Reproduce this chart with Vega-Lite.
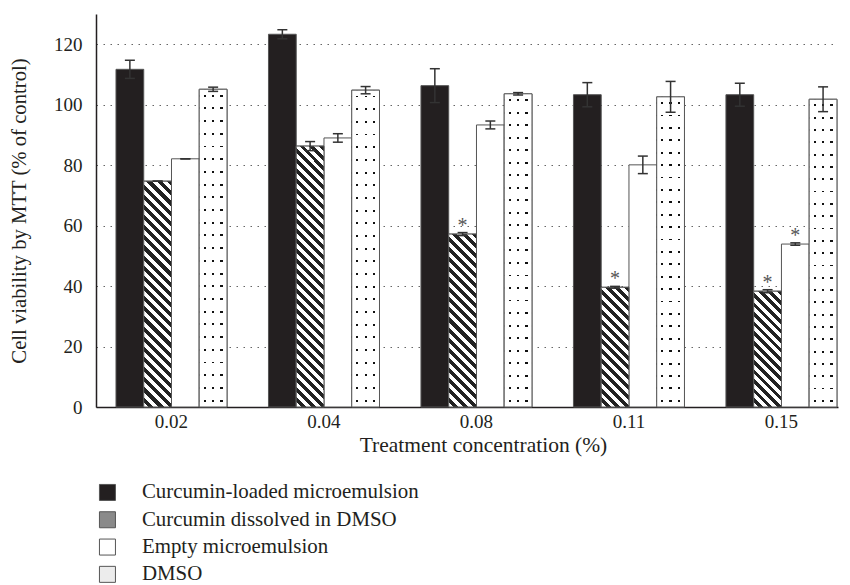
{
"$schema": "https://vega.github.io/schema/vega-lite/v6.json",
"width": 742, "height": 393,
"autosize": {"type": "none"},
"padding": {"left": 96, "top": 14, "right": 12, "bottom": 178},
"background": "white",
"config": {"view": {"stroke": null}, "font": "Liberation Serif",
  "axis": {"labelFont": "Liberation Serif", "titleFont": "Liberation Serif", "labelColor": "#231f20", "titleColor": "#231f20", "titleFontWeight": "normal", "labelFontSize": 19, "titleFontSize": 21, "domainColor": "#231f20", "domainWidth": 1.5, "ticks": false}},
"data": {"values": [
{"conc":"0.02","series":"Curcumin-loaded microemulsion","value":111.7,"lo":108.7,"hi":114.7,"sig":""},
{"conc":"0.02","series":"Curcumin dissolved in DMSO","value":74.7,"lo":74.7,"hi":74.7,"sig":""},
{"conc":"0.02","series":"Empty microemulsion","value":82.1,"lo":82.1,"hi":82.1,"sig":""},
{"conc":"0.02","series":"DMSO","value":105.1,"lo":104.4,"hi":105.8,"sig":""},
{"conc":"0.04","series":"Curcumin-loaded microemulsion","value":123.3,"lo":121.8,"hi":124.8,"sig":""},
{"conc":"0.04","series":"Curcumin dissolved in DMSO","value":86.3,"lo":84.8,"hi":87.8,"sig":""},
{"conc":"0.04","series":"Empty microemulsion","value":89.0,"lo":87.6,"hi":90.4,"sig":""},
{"conc":"0.04","series":"DMSO","value":104.8,"lo":103.6,"hi":106.0,"sig":""},
{"conc":"0.08","series":"Curcumin-loaded microemulsion","value":106.3,"lo":100.7,"hi":111.9,"sig":""},
{"conc":"0.08","series":"Curcumin dissolved in DMSO","value":57.2,"lo":56.7,"hi":57.7,"sig":"*"},
{"conc":"0.08","series":"Empty microemulsion","value":93.3,"lo":92.0,"hi":94.6,"sig":""},
{"conc":"0.08","series":"DMSO","value":103.6,"lo":103.2,"hi":104.0,"sig":""},
{"conc":"0.11","series":"Curcumin-loaded microemulsion","value":103.3,"lo":99.3,"hi":107.3,"sig":""},
{"conc":"0.11","series":"Curcumin dissolved in DMSO","value":39.6,"lo":39.3,"hi":39.9,"sig":"*"},
{"conc":"0.11","series":"Empty microemulsion","value":80.1,"lo":77.2,"hi":83.0,"sig":""},
{"conc":"0.11","series":"DMSO","value":102.6,"lo":97.5,"hi":107.7,"sig":""},
{"conc":"0.15","series":"Curcumin-loaded microemulsion","value":103.3,"lo":99.5,"hi":107.1,"sig":""},
{"conc":"0.15","series":"Curcumin dissolved in DMSO","value":38.3,"lo":37.8,"hi":38.8,"sig":"*"},
{"conc":"0.15","series":"Empty microemulsion","value":53.9,"lo":53.5,"hi":54.3,"sig":"*"},
{"conc":"0.15","series":"DMSO","value":101.8,"lo":97.7,"hi":105.9,"sig":""}
]},
"encoding": {
  "x": {"field": "conc", "type": "nominal",
    "scale": {"domain": ["0.02","0.04","0.08","0.11","0.15"], "paddingInner": 0.272, "paddingOuter": 0.069, "align": 0.95},
    "axis": {"title": "Treatment concentration (%)", "labelAngle": 0, "labelPadding": 5, "titlePadding": 3, "titleX": 387, "titleFontSize": 21.5}},
  "xOffset": {"field": "series", "type": "nominal",
    "scale": {"domain": ["Curcumin-loaded microemulsion","Curcumin dissolved in DMSO","Empty microemulsion","DMSO"], "paddingInner": 0, "paddingOuter": 0}}
},
"layer": [
{"mark": {"type": "bar", "stroke": "#555", "strokeWidth": 1},
 "encoding": {
  "y": {"field": "value", "type": "quantitative", "title": "Cell viability by MTT (% of control)",
    "scale": {"domain": [0, 130], "nice": false},
    "axis": {"values": [0,20,40,60,80,100,120], "labelPadding": 14, "grid": true, "gridDash": [1.5,5.5], "gridColor": "#666", "gridWidth": 1.2, "titlePadding": 24, "titleFontSize": 20.7}},
  "color": {"field": "series", "type": "nominal",
    "scale": {"domain": ["Curcumin-loaded microemulsion","Curcumin dissolved in DMSO","Empty microemulsion","DMSO"],
      "range": ["#231f20", "#8a8a8a", "#ffffff", "#ececec"]},
    "legend": {"title": null, "orient": "none", "legendX": 1, "legendY": 468, "symbolType": "square", "symbolSize": 256, "symbolStrokeColor": "#555", "symbolStrokeWidth": 1, "labelFont": "Liberation Serif", "labelFontSize": 20.9, "labelColor": "#231f20", "labelOffset": 24, "rowPadding": 5.3, "labelLimit": 0}}
 }},
{"transform": [{"filter": "datum.conc === '0.02' && datum.series === 'Curcumin dissolved in DMSO'"}],
 "mark": {"type": "bar", "stroke": "#555", "strokeWidth": 1,
  "fill": {"gradient":"linear","x1":1,"y1":0,"x2":0.8639,"y2":1.1063,"stops":[
{"offset":0,"color":"#222"},
{"offset":0.02,"color":"#222"},{"offset":0.02,"color":"#fff"},{"offset":0.04,"color":"#fff"},{"offset":0.04,"color":"#222"},
{"offset":0.06,"color":"#222"},{"offset":0.06,"color":"#fff"},{"offset":0.08,"color":"#fff"},{"offset":0.08,"color":"#222"},
{"offset":0.1,"color":"#222"},{"offset":0.1,"color":"#fff"},{"offset":0.12,"color":"#fff"},{"offset":0.12,"color":"#222"},
{"offset":0.14,"color":"#222"},{"offset":0.14,"color":"#fff"},{"offset":0.16,"color":"#fff"},{"offset":0.16,"color":"#222"},
{"offset":0.18,"color":"#222"},{"offset":0.18,"color":"#fff"},{"offset":0.2,"color":"#fff"},{"offset":0.2,"color":"#222"},
{"offset":0.22,"color":"#222"},{"offset":0.22,"color":"#fff"},{"offset":0.24,"color":"#fff"},{"offset":0.24,"color":"#222"},
{"offset":0.26,"color":"#222"},{"offset":0.26,"color":"#fff"},{"offset":0.28,"color":"#fff"},{"offset":0.28,"color":"#222"},
{"offset":0.3,"color":"#222"},{"offset":0.3,"color":"#fff"},{"offset":0.32,"color":"#fff"},{"offset":0.32,"color":"#222"},
{"offset":0.34,"color":"#222"},{"offset":0.34,"color":"#fff"},{"offset":0.36,"color":"#fff"},{"offset":0.36,"color":"#222"},
{"offset":0.38,"color":"#222"},{"offset":0.38,"color":"#fff"},{"offset":0.4,"color":"#fff"},{"offset":0.4,"color":"#222"},
{"offset":0.42,"color":"#222"},{"offset":0.42,"color":"#fff"},{"offset":0.44,"color":"#fff"},{"offset":0.44,"color":"#222"},
{"offset":0.46,"color":"#222"},{"offset":0.46,"color":"#fff"},{"offset":0.48,"color":"#fff"},{"offset":0.48,"color":"#222"},
{"offset":0.5,"color":"#222"},{"offset":0.5,"color":"#fff"},{"offset":0.52,"color":"#fff"},{"offset":0.52,"color":"#222"},
{"offset":0.54,"color":"#222"},{"offset":0.54,"color":"#fff"},{"offset":0.56,"color":"#fff"},{"offset":0.56,"color":"#222"},
{"offset":0.58,"color":"#222"},{"offset":0.58,"color":"#fff"},{"offset":0.6,"color":"#fff"},{"offset":0.6,"color":"#222"},
{"offset":0.62,"color":"#222"},{"offset":0.62,"color":"#fff"},{"offset":0.64,"color":"#fff"},{"offset":0.64,"color":"#222"},
{"offset":0.66,"color":"#222"},{"offset":0.66,"color":"#fff"},{"offset":0.68,"color":"#fff"},{"offset":0.68,"color":"#222"},
{"offset":0.7,"color":"#222"},{"offset":0.7,"color":"#fff"},{"offset":0.72,"color":"#fff"},{"offset":0.72,"color":"#222"},
{"offset":0.74,"color":"#222"},{"offset":0.74,"color":"#fff"},{"offset":0.76,"color":"#fff"},{"offset":0.76,"color":"#222"},
{"offset":0.78,"color":"#222"},{"offset":0.78,"color":"#fff"},{"offset":0.8,"color":"#fff"},{"offset":0.8,"color":"#222"},
{"offset":0.82,"color":"#222"},{"offset":0.82,"color":"#fff"},{"offset":0.84,"color":"#fff"},{"offset":0.84,"color":"#222"},
{"offset":0.86,"color":"#222"},{"offset":0.86,"color":"#fff"},{"offset":0.88,"color":"#fff"},{"offset":0.88,"color":"#222"},
{"offset":0.9,"color":"#222"},{"offset":0.9,"color":"#fff"},{"offset":0.92,"color":"#fff"},{"offset":0.92,"color":"#222"},
{"offset":0.94,"color":"#222"},{"offset":0.94,"color":"#fff"},{"offset":0.96,"color":"#fff"},{"offset":0.96,"color":"#222"},
{"offset":0.98,"color":"#222"},{"offset":0.98,"color":"#fff"},{"offset":1,"color":"#fff"}]}},
 "encoding": {"y": {"field": "value", "type": "quantitative", "title": "Cell viability by MTT (% of control)"}}},
{"transform": [{"filter": "datum.conc === '0.04' && datum.series === 'Curcumin dissolved in DMSO'"}],
 "mark": {"type": "bar", "stroke": "#555", "strokeWidth": 1,
  "fill": {"gradient":"linear","x1":1,"y1":0,"x2":0.8835,"y2":1.0941,"stops":[
{"offset":0,"color":"#222"},
{"offset":0.0172,"color":"#222"},{"offset":0.0172,"color":"#fff"},{"offset":0.0345,"color":"#fff"},{"offset":0.0345,"color":"#222"},
{"offset":0.0517,"color":"#222"},{"offset":0.0517,"color":"#fff"},{"offset":0.069,"color":"#fff"},{"offset":0.069,"color":"#222"},
{"offset":0.0862,"color":"#222"},{"offset":0.0862,"color":"#fff"},{"offset":0.1034,"color":"#fff"},{"offset":0.1034,"color":"#222"},
{"offset":0.1207,"color":"#222"},{"offset":0.1207,"color":"#fff"},{"offset":0.1379,"color":"#fff"},{"offset":0.1379,"color":"#222"},
{"offset":0.1552,"color":"#222"},{"offset":0.1552,"color":"#fff"},{"offset":0.1724,"color":"#fff"},{"offset":0.1724,"color":"#222"},
{"offset":0.1897,"color":"#222"},{"offset":0.1897,"color":"#fff"},{"offset":0.2069,"color":"#fff"},{"offset":0.2069,"color":"#222"},
{"offset":0.2241,"color":"#222"},{"offset":0.2241,"color":"#fff"},{"offset":0.2414,"color":"#fff"},{"offset":0.2414,"color":"#222"},
{"offset":0.2586,"color":"#222"},{"offset":0.2586,"color":"#fff"},{"offset":0.2759,"color":"#fff"},{"offset":0.2759,"color":"#222"},
{"offset":0.2931,"color":"#222"},{"offset":0.2931,"color":"#fff"},{"offset":0.3103,"color":"#fff"},{"offset":0.3103,"color":"#222"},
{"offset":0.3276,"color":"#222"},{"offset":0.3276,"color":"#fff"},{"offset":0.3448,"color":"#fff"},{"offset":0.3448,"color":"#222"},
{"offset":0.3621,"color":"#222"},{"offset":0.3621,"color":"#fff"},{"offset":0.3793,"color":"#fff"},{"offset":0.3793,"color":"#222"},
{"offset":0.3966,"color":"#222"},{"offset":0.3966,"color":"#fff"},{"offset":0.4138,"color":"#fff"},{"offset":0.4138,"color":"#222"},
{"offset":0.431,"color":"#222"},{"offset":0.431,"color":"#fff"},{"offset":0.4483,"color":"#fff"},{"offset":0.4483,"color":"#222"},
{"offset":0.4655,"color":"#222"},{"offset":0.4655,"color":"#fff"},{"offset":0.4828,"color":"#fff"},{"offset":0.4828,"color":"#222"},
{"offset":0.5,"color":"#222"},{"offset":0.5,"color":"#fff"},{"offset":0.5172,"color":"#fff"},{"offset":0.5172,"color":"#222"},
{"offset":0.5345,"color":"#222"},{"offset":0.5345,"color":"#fff"},{"offset":0.5517,"color":"#fff"},{"offset":0.5517,"color":"#222"},
{"offset":0.569,"color":"#222"},{"offset":0.569,"color":"#fff"},{"offset":0.5862,"color":"#fff"},{"offset":0.5862,"color":"#222"},
{"offset":0.6034,"color":"#222"},{"offset":0.6034,"color":"#fff"},{"offset":0.6207,"color":"#fff"},{"offset":0.6207,"color":"#222"},
{"offset":0.6379,"color":"#222"},{"offset":0.6379,"color":"#fff"},{"offset":0.6552,"color":"#fff"},{"offset":0.6552,"color":"#222"},
{"offset":0.6724,"color":"#222"},{"offset":0.6724,"color":"#fff"},{"offset":0.6897,"color":"#fff"},{"offset":0.6897,"color":"#222"},
{"offset":0.7069,"color":"#222"},{"offset":0.7069,"color":"#fff"},{"offset":0.7241,"color":"#fff"},{"offset":0.7241,"color":"#222"},
{"offset":0.7414,"color":"#222"},{"offset":0.7414,"color":"#fff"},{"offset":0.7586,"color":"#fff"},{"offset":0.7586,"color":"#222"},
{"offset":0.7759,"color":"#222"},{"offset":0.7759,"color":"#fff"},{"offset":0.7931,"color":"#fff"},{"offset":0.7931,"color":"#222"},
{"offset":0.8103,"color":"#222"},{"offset":0.8103,"color":"#fff"},{"offset":0.8276,"color":"#fff"},{"offset":0.8276,"color":"#222"},
{"offset":0.8448,"color":"#222"},{"offset":0.8448,"color":"#fff"},{"offset":0.8621,"color":"#fff"},{"offset":0.8621,"color":"#222"},
{"offset":0.8793,"color":"#222"},{"offset":0.8793,"color":"#fff"},{"offset":0.8966,"color":"#fff"},{"offset":0.8966,"color":"#222"},
{"offset":0.9138,"color":"#222"},{"offset":0.9138,"color":"#fff"},{"offset":0.931,"color":"#fff"},{"offset":0.931,"color":"#222"},
{"offset":0.9483,"color":"#222"},{"offset":0.9483,"color":"#fff"},{"offset":0.9655,"color":"#fff"},{"offset":0.9655,"color":"#222"},
{"offset":0.9828,"color":"#222"},{"offset":0.9828,"color":"#fff"},{"offset":1,"color":"#fff"}]}},
 "encoding": {"y": {"field": "value", "type": "quantitative", "title": "Cell viability by MTT (% of control)"}}},
{"transform": [{"filter": "datum.conc === '0.08' && datum.series === 'Curcumin dissolved in DMSO'"}],
 "mark": {"type": "bar", "stroke": "#555", "strokeWidth": 1,
  "fill": {"gradient":"linear","x1":1,"y1":0,"x2":0.8184,"y2":1.1314,"stops":[
{"offset":0,"color":"#222"},
{"offset":0.025,"color":"#222"},{"offset":0.025,"color":"#fff"},{"offset":0.05,"color":"#fff"},{"offset":0.05,"color":"#222"},
{"offset":0.075,"color":"#222"},{"offset":0.075,"color":"#fff"},{"offset":0.1,"color":"#fff"},{"offset":0.1,"color":"#222"},
{"offset":0.125,"color":"#222"},{"offset":0.125,"color":"#fff"},{"offset":0.15,"color":"#fff"},{"offset":0.15,"color":"#222"},
{"offset":0.175,"color":"#222"},{"offset":0.175,"color":"#fff"},{"offset":0.2,"color":"#fff"},{"offset":0.2,"color":"#222"},
{"offset":0.225,"color":"#222"},{"offset":0.225,"color":"#fff"},{"offset":0.25,"color":"#fff"},{"offset":0.25,"color":"#222"},
{"offset":0.275,"color":"#222"},{"offset":0.275,"color":"#fff"},{"offset":0.3,"color":"#fff"},{"offset":0.3,"color":"#222"},
{"offset":0.325,"color":"#222"},{"offset":0.325,"color":"#fff"},{"offset":0.35,"color":"#fff"},{"offset":0.35,"color":"#222"},
{"offset":0.375,"color":"#222"},{"offset":0.375,"color":"#fff"},{"offset":0.4,"color":"#fff"},{"offset":0.4,"color":"#222"},
{"offset":0.425,"color":"#222"},{"offset":0.425,"color":"#fff"},{"offset":0.45,"color":"#fff"},{"offset":0.45,"color":"#222"},
{"offset":0.475,"color":"#222"},{"offset":0.475,"color":"#fff"},{"offset":0.5,"color":"#fff"},{"offset":0.5,"color":"#222"},
{"offset":0.525,"color":"#222"},{"offset":0.525,"color":"#fff"},{"offset":0.55,"color":"#fff"},{"offset":0.55,"color":"#222"},
{"offset":0.575,"color":"#222"},{"offset":0.575,"color":"#fff"},{"offset":0.6,"color":"#fff"},{"offset":0.6,"color":"#222"},
{"offset":0.625,"color":"#222"},{"offset":0.625,"color":"#fff"},{"offset":0.65,"color":"#fff"},{"offset":0.65,"color":"#222"},
{"offset":0.675,"color":"#222"},{"offset":0.675,"color":"#fff"},{"offset":0.7,"color":"#fff"},{"offset":0.7,"color":"#222"},
{"offset":0.725,"color":"#222"},{"offset":0.725,"color":"#fff"},{"offset":0.75,"color":"#fff"},{"offset":0.75,"color":"#222"},
{"offset":0.775,"color":"#222"},{"offset":0.775,"color":"#fff"},{"offset":0.8,"color":"#fff"},{"offset":0.8,"color":"#222"},
{"offset":0.825,"color":"#222"},{"offset":0.825,"color":"#fff"},{"offset":0.85,"color":"#fff"},{"offset":0.85,"color":"#222"},
{"offset":0.875,"color":"#222"},{"offset":0.875,"color":"#fff"},{"offset":0.9,"color":"#fff"},{"offset":0.9,"color":"#222"},
{"offset":0.925,"color":"#222"},{"offset":0.925,"color":"#fff"},{"offset":0.95,"color":"#fff"},{"offset":0.95,"color":"#222"},
{"offset":0.975,"color":"#222"},{"offset":0.975,"color":"#fff"},{"offset":1,"color":"#fff"}]}},
 "encoding": {"y": {"field": "value", "type": "quantitative", "title": "Cell viability by MTT (% of control)"}}},
{"transform": [{"filter": "datum.conc === '0.11' && datum.series === 'Curcumin dissolved in DMSO'"}],
 "mark": {"type": "bar", "stroke": "#555", "strokeWidth": 1,
  "fill": {"gradient":"linear","x1":1,"y1":0,"x2":0.729,"y2":1.169,"stops":[
{"offset":0,"color":"#222"},
{"offset":0.0333,"color":"#222"},{"offset":0.0333,"color":"#fff"},{"offset":0.0667,"color":"#fff"},{"offset":0.0667,"color":"#222"},
{"offset":0.1,"color":"#222"},{"offset":0.1,"color":"#fff"},{"offset":0.1333,"color":"#fff"},{"offset":0.1333,"color":"#222"},
{"offset":0.1667,"color":"#222"},{"offset":0.1667,"color":"#fff"},{"offset":0.2,"color":"#fff"},{"offset":0.2,"color":"#222"},
{"offset":0.2333,"color":"#222"},{"offset":0.2333,"color":"#fff"},{"offset":0.2667,"color":"#fff"},{"offset":0.2667,"color":"#222"},
{"offset":0.3,"color":"#222"},{"offset":0.3,"color":"#fff"},{"offset":0.3333,"color":"#fff"},{"offset":0.3333,"color":"#222"},
{"offset":0.3667,"color":"#222"},{"offset":0.3667,"color":"#fff"},{"offset":0.4,"color":"#fff"},{"offset":0.4,"color":"#222"},
{"offset":0.4333,"color":"#222"},{"offset":0.4333,"color":"#fff"},{"offset":0.4667,"color":"#fff"},{"offset":0.4667,"color":"#222"},
{"offset":0.5,"color":"#222"},{"offset":0.5,"color":"#fff"},{"offset":0.5333,"color":"#fff"},{"offset":0.5333,"color":"#222"},
{"offset":0.5667,"color":"#222"},{"offset":0.5667,"color":"#fff"},{"offset":0.6,"color":"#fff"},{"offset":0.6,"color":"#222"},
{"offset":0.6333,"color":"#222"},{"offset":0.6333,"color":"#fff"},{"offset":0.6667,"color":"#fff"},{"offset":0.6667,"color":"#222"},
{"offset":0.7,"color":"#222"},{"offset":0.7,"color":"#fff"},{"offset":0.7333,"color":"#fff"},{"offset":0.7333,"color":"#222"},
{"offset":0.7667,"color":"#222"},{"offset":0.7667,"color":"#fff"},{"offset":0.8,"color":"#fff"},{"offset":0.8,"color":"#222"},
{"offset":0.8333,"color":"#222"},{"offset":0.8333,"color":"#fff"},{"offset":0.8667,"color":"#fff"},{"offset":0.8667,"color":"#222"},
{"offset":0.9,"color":"#222"},{"offset":0.9,"color":"#fff"},{"offset":0.9333,"color":"#fff"},{"offset":0.9333,"color":"#222"},
{"offset":0.9667,"color":"#222"},{"offset":0.9667,"color":"#fff"},{"offset":1,"color":"#fff"}]}},
 "encoding": {"y": {"field": "value", "type": "quantitative", "title": "Cell viability by MTT (% of control)"}}},
{"transform": [{"filter": "datum.conc === '0.15' && datum.series === 'Curcumin dissolved in DMSO'"}],
 "mark": {"type": "bar", "stroke": "#555", "strokeWidth": 1,
  "fill": {"gradient":"linear","x1":1,"y1":0,"x2":0.7191,"y2":1.1723,"stops":[
{"offset":0,"color":"#222"},
{"offset":0.0333,"color":"#222"},{"offset":0.0333,"color":"#fff"},{"offset":0.0667,"color":"#fff"},{"offset":0.0667,"color":"#222"},
{"offset":0.1,"color":"#222"},{"offset":0.1,"color":"#fff"},{"offset":0.1333,"color":"#fff"},{"offset":0.1333,"color":"#222"},
{"offset":0.1667,"color":"#222"},{"offset":0.1667,"color":"#fff"},{"offset":0.2,"color":"#fff"},{"offset":0.2,"color":"#222"},
{"offset":0.2333,"color":"#222"},{"offset":0.2333,"color":"#fff"},{"offset":0.2667,"color":"#fff"},{"offset":0.2667,"color":"#222"},
{"offset":0.3,"color":"#222"},{"offset":0.3,"color":"#fff"},{"offset":0.3333,"color":"#fff"},{"offset":0.3333,"color":"#222"},
{"offset":0.3667,"color":"#222"},{"offset":0.3667,"color":"#fff"},{"offset":0.4,"color":"#fff"},{"offset":0.4,"color":"#222"},
{"offset":0.4333,"color":"#222"},{"offset":0.4333,"color":"#fff"},{"offset":0.4667,"color":"#fff"},{"offset":0.4667,"color":"#222"},
{"offset":0.5,"color":"#222"},{"offset":0.5,"color":"#fff"},{"offset":0.5333,"color":"#fff"},{"offset":0.5333,"color":"#222"},
{"offset":0.5667,"color":"#222"},{"offset":0.5667,"color":"#fff"},{"offset":0.6,"color":"#fff"},{"offset":0.6,"color":"#222"},
{"offset":0.6333,"color":"#222"},{"offset":0.6333,"color":"#fff"},{"offset":0.6667,"color":"#fff"},{"offset":0.6667,"color":"#222"},
{"offset":0.7,"color":"#222"},{"offset":0.7,"color":"#fff"},{"offset":0.7333,"color":"#fff"},{"offset":0.7333,"color":"#222"},
{"offset":0.7667,"color":"#222"},{"offset":0.7667,"color":"#fff"},{"offset":0.8,"color":"#fff"},{"offset":0.8,"color":"#222"},
{"offset":0.8333,"color":"#222"},{"offset":0.8333,"color":"#fff"},{"offset":0.8667,"color":"#fff"},{"offset":0.8667,"color":"#222"},
{"offset":0.9,"color":"#222"},{"offset":0.9,"color":"#fff"},{"offset":0.9333,"color":"#fff"},{"offset":0.9333,"color":"#222"},
{"offset":0.9667,"color":"#222"},{"offset":0.9667,"color":"#fff"},{"offset":1,"color":"#fff"}]}},
 "encoding": {"y": {"field": "value", "type": "quantitative", "title": "Cell viability by MTT (% of control)"}}},
{"transform": [{"filter": "datum.series === 'DMSO'"}],
 "mark": {"type": "bar",
  "fill": {"gradient":"linear","x1":0,"y1":0,"x2":0,"y2":1,"stops":[
{"offset":0,"color":"#fff"},
{"offset":0.017,"color":"#fff"},{"offset":0.017,"color":"#111"},{"offset":0.023,"color":"#111"},{"offset":0.023,"color":"#fff"},
{"offset":0.057,"color":"#fff"},{"offset":0.057,"color":"#111"},{"offset":0.063,"color":"#111"},{"offset":0.063,"color":"#fff"},
{"offset":0.097,"color":"#fff"},{"offset":0.097,"color":"#111"},{"offset":0.103,"color":"#111"},{"offset":0.103,"color":"#fff"},
{"offset":0.137,"color":"#fff"},{"offset":0.137,"color":"#111"},{"offset":0.143,"color":"#111"},{"offset":0.143,"color":"#fff"},
{"offset":0.177,"color":"#fff"},{"offset":0.177,"color":"#111"},{"offset":0.183,"color":"#111"},{"offset":0.183,"color":"#fff"},
{"offset":0.217,"color":"#fff"},{"offset":0.217,"color":"#111"},{"offset":0.223,"color":"#111"},{"offset":0.223,"color":"#fff"},
{"offset":0.257,"color":"#fff"},{"offset":0.257,"color":"#111"},{"offset":0.263,"color":"#111"},{"offset":0.263,"color":"#fff"},
{"offset":0.297,"color":"#fff"},{"offset":0.297,"color":"#111"},{"offset":0.303,"color":"#111"},{"offset":0.303,"color":"#fff"},
{"offset":0.337,"color":"#fff"},{"offset":0.337,"color":"#111"},{"offset":0.343,"color":"#111"},{"offset":0.343,"color":"#fff"},
{"offset":0.377,"color":"#fff"},{"offset":0.377,"color":"#111"},{"offset":0.383,"color":"#111"},{"offset":0.383,"color":"#fff"},
{"offset":0.417,"color":"#fff"},{"offset":0.417,"color":"#111"},{"offset":0.423,"color":"#111"},{"offset":0.423,"color":"#fff"},
{"offset":0.457,"color":"#fff"},{"offset":0.457,"color":"#111"},{"offset":0.463,"color":"#111"},{"offset":0.463,"color":"#fff"},
{"offset":0.497,"color":"#fff"},{"offset":0.497,"color":"#111"},{"offset":0.503,"color":"#111"},{"offset":0.503,"color":"#fff"},
{"offset":0.537,"color":"#fff"},{"offset":0.537,"color":"#111"},{"offset":0.543,"color":"#111"},{"offset":0.543,"color":"#fff"},
{"offset":0.577,"color":"#fff"},{"offset":0.577,"color":"#111"},{"offset":0.583,"color":"#111"},{"offset":0.583,"color":"#fff"},
{"offset":0.617,"color":"#fff"},{"offset":0.617,"color":"#111"},{"offset":0.623,"color":"#111"},{"offset":0.623,"color":"#fff"},
{"offset":0.657,"color":"#fff"},{"offset":0.657,"color":"#111"},{"offset":0.663,"color":"#111"},{"offset":0.663,"color":"#fff"},
{"offset":0.697,"color":"#fff"},{"offset":0.697,"color":"#111"},{"offset":0.703,"color":"#111"},{"offset":0.703,"color":"#fff"},
{"offset":0.737,"color":"#fff"},{"offset":0.737,"color":"#111"},{"offset":0.743,"color":"#111"},{"offset":0.743,"color":"#fff"},
{"offset":0.777,"color":"#fff"},{"offset":0.777,"color":"#111"},{"offset":0.783,"color":"#111"},{"offset":0.783,"color":"#fff"},
{"offset":0.817,"color":"#fff"},{"offset":0.817,"color":"#111"},{"offset":0.823,"color":"#111"},{"offset":0.823,"color":"#fff"},
{"offset":0.857,"color":"#fff"},{"offset":0.857,"color":"#111"},{"offset":0.863,"color":"#111"},{"offset":0.863,"color":"#fff"},
{"offset":0.897,"color":"#fff"},{"offset":0.897,"color":"#111"},{"offset":0.903,"color":"#111"},{"offset":0.903,"color":"#fff"},
{"offset":0.937,"color":"#fff"},{"offset":0.937,"color":"#111"},{"offset":0.943,"color":"#111"},{"offset":0.943,"color":"#fff"},
{"offset":0.977,"color":"#fff"},{"offset":0.977,"color":"#111"},{"offset":0.983,"color":"#111"},{"offset":0.983,"color":"#fff"},
{"offset":1,"color":"#fff"}]}},
 "encoding": {"y": {"field": "value", "type": "quantitative", "title": "Cell viability by MTT (% of control)"}}},
{"transform": [{"filter": "datum.series === 'DMSO'"}],
 "mark": {"type": "bar", "stroke": "#555", "strokeWidth": 1,
  "fill": {"gradient":"linear","x1":0,"y1":0,"x2":1,"y2":0,"stops":[
{"offset":0,"color":"#fff"},{"offset":0.16,"color":"#fff"},{"offset":0.16,"color":"rgba(255,255,255,0)"},{"offset":0.24,"color":"rgba(255,255,255,0)"},{"offset":0.24,"color":"#fff"},
{"offset":0.46,"color":"#fff"},{"offset":0.46,"color":"rgba(255,255,255,0)"},{"offset":0.54,"color":"rgba(255,255,255,0)"},{"offset":0.54,"color":"#fff"},
{"offset":0.76,"color":"#fff"},{"offset":0.76,"color":"rgba(255,255,255,0)"},{"offset":0.84,"color":"rgba(255,255,255,0)"},{"offset":0.84,"color":"#fff"},
{"offset":1,"color":"#fff"}]}},
 "encoding": {"y": {"field": "value", "type": "quantitative", "title": "Cell viability by MTT (% of control)"}}},
{"mark": {"type": "rule", "color": "#333", "strokeWidth": 1.5},
 "encoding": {"y": {"field": "lo", "type": "quantitative", "title": "Cell viability by MTT (% of control)"}, "y2": {"field": "hi"}}},
{"mark": {"type": "tick", "color": "#333", "thickness": 1.5, "size": 10, "opacity": 1},
 "encoding": {"y": {"field": "hi", "type": "quantitative", "title": "Cell viability by MTT (% of control)"}}},
{"mark": {"type": "tick", "color": "#333", "thickness": 1.5, "size": 10, "opacity": 1},
 "encoding": {"y": {"field": "lo", "type": "quantitative", "title": "Cell viability by MTT (% of control)"}}},
{"transform": [{"filter": "datum.sig === '*'"}],
 "mark": {"type": "text", "baseline": "alphabetic", "dy": -1, "fontSize": 20, "color": "#555", "font": "Liberation Serif"},
 "encoding": {"y": {"field": "hi", "type": "quantitative", "title": "Cell viability by MTT (% of control)"}, "text": {"field": "sig"}}}
]
}
